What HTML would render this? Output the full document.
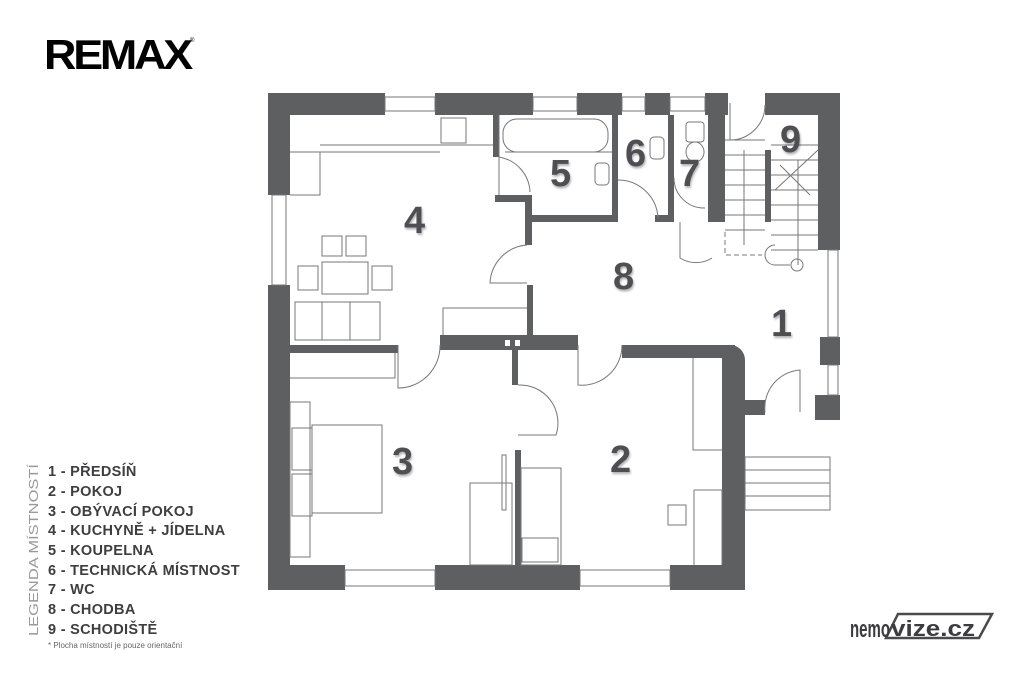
<!DOCTYPE html>
<html><head><meta charset="utf-8"><style>
html,body{margin:0;padding:0;background:#fff;}
svg{display:block;}
.w{fill:#5e5f61;}
.l{fill:none;stroke:#777;stroke-width:1;}
.n{font-family:"Liberation Sans",sans-serif;font-weight:bold;font-size:38px;fill:#505052;}
.lg{font-family:"Liberation Sans",sans-serif;font-weight:bold;font-size:14.5px;fill:#3e3e40;letter-spacing:0.3px;}
</style></head><body>
<svg width="1024" height="682" viewBox="0 0 1024 682" xmlns="http://www.w3.org/2000/svg">
<defs><filter id="sh"><feDropShadow dx="1" dy="2" stdDeviation="1" flood-color="#000" flood-opacity="0.3"/></filter></defs>
<text x="44" y="69" font-family="Liberation Sans,sans-serif" font-weight="900" font-size="42" letter-spacing="-3" fill="#000" textLength="146" lengthAdjust="spacingAndGlyphs">REMAX</text>
<text x="190" y="42" font-family="Liberation Sans,sans-serif" font-size="6" fill="#000">®</text>

<g class="w">
<rect x="268" y="93" width="117" height="22"/>
<rect x="435" y="93" width="98" height="22"/>
<rect x="577" y="93" width="45" height="22"/>
<rect x="645" y="93" width="25" height="22"/>
<rect x="705" y="93" width="23" height="22"/>
<rect x="708" y="115" width="17" height="107"/>
<rect x="765" y="93" width="75" height="22"/>
<rect x="818" y="93" width="22" height="157"/>
<rect x="268" y="93" width="22" height="102"/>
<rect x="268" y="285" width="22" height="305"/>
<rect x="268" y="565" width="77" height="25"/>
<rect x="435" y="565" width="145" height="25"/>
<rect x="670" y="565" width="75" height="25"/>
<path d="M722 345 H730 A15 15 0 0 1 745 360 V590 H722 Z"/>
<path d="M622 345 H735 V358 H622 Z"/>
<rect x="740" y="400" width="25" height="15"/>
<rect x="815" y="395" width="25" height="25"/>
<rect x="820" y="337" width="20" height="28"/>
<rect x="493" y="115" width="6" height="42"/>
<rect x="495" y="195" width="37" height="7"/>
<rect x="525" y="195" width="7" height="50"/>
<rect x="525" y="215" width="93" height="7"/>
<rect x="612" y="115" width="6" height="107"/>
<rect x="668" y="115" width="6" height="107"/>
<rect x="655" y="215" width="19" height="7"/>
<rect x="765" y="150" width="6" height="72"/>
<rect x="527" y="285" width="6" height="55"/>
<rect x="290" y="345" width="108" height="8"/>
<rect x="440" y="335" width="138" height="15"/>
<rect x="505" y="340" width="5" height="6" fill="#fff"/><rect x="515" y="340" width="5" height="6" fill="#fff"/>
<rect x="512" y="350" width="6" height="35"/>
<rect x="515" y="450" width="6" height="115"/>
</g>
<g class="l">
<rect x="385" y="97" width="50" height="14"/><rect x="533" y="97" width="44" height="14"/>
<rect x="622" y="97" width="23" height="14"/><rect x="670" y="97" width="35" height="14"/>
<rect x="272" y="195" width="14" height="90"/><rect x="345" y="570" width="90" height="16"/>
<rect x="580" y="570" width="90" height="16"/><rect x="828" y="250" width="10" height="87"/>
<rect x="828" y="365" width="10" height="30"/>
<path d="M499 157 A37 37 0 0 1 530 192 M499 195 V157"/>
<path d="M618 180 A40 40 0 0 1 658 218"/>
<path d="M674 178 A30 30 0 0 0 705 208"/>
<path d="M730 103 V140 A35 35 0 0 0 765 105"/>
<path d="M680 222 V258 A30 30 0 0 0 712 258 H712"/>
<path d="M527 245 A40 40 0 0 0 490 283 H527"/>
<path d="M398 345 V388 A42 42 0 0 0 440 345"/>
<path d="M578 345 V385 A40 40 0 0 0 622 345"/>
<path d="M518 385 A38 38 0 0 1 556 435 H518"/>
<path d="M765 412 A38 38 0 0 1 800 370 V412"/>
<path d="M290 152 H320 V195 H290 M320 145 H493 M320 152 H440"/>
<rect x="441" y="118" width="25" height="25"/>
<rect x="322" y="236" width="20" height="20"/><rect x="346" y="236" width="20" height="20"/>
<rect x="322" y="262" width="46" height="32"/><rect x="298" y="266" width="20" height="24"/><rect x="372" y="266" width="20" height="24"/>
<rect x="295" y="302" width="85" height="38"/><path d="M322 302 V340 M350 302 V340"/>
<path d="M443 335 V308 H527"/>
<path d="M499 115 V157 M505 152 H612"/>
<rect x="503" y="119" width="105" height="33" rx="14"/>
<rect x="595" y="163" width="14" height="22" rx="4"/><rect x="650" y="137" width="14" height="22" rx="4"/>
<rect x="686" y="122" width="18" height="20" rx="3"/><ellipse cx="695" cy="152" rx="9" ry="10"/>
<path d="M725 140 H765 M725 155 H765 M725 170 H765 M725 185 H765 M725 200 H765 M725 215 H765 M725 230 H765 M771 145 H818 M771 160 H818 M771 175 H818 M771 190 H818 M771 205 H818 M771 220 H818 M771 235 H818 M771 250 H818 M744 150 V245 M798 160 V265 M775 190 L818 150 M780 165 L810 195"/>
<path d="M725 232 V255 H762" stroke-dasharray="5 3"/>
<path d="M775 245 A10 10 0 0 0 775 265 H790"/><circle cx="797" cy="265" r="6"/>
<path d="M290 378 H395 V353"/>
<rect x="290" y="402" width="20" height="155"/><rect x="292" y="428" width="20" height="42"/><rect x="292" y="474" width="20" height="42"/>
<rect x="312" y="425" width="70" height="88"/>
<rect x="470" y="483" width="42" height="82"/><rect x="502" y="455" width="4" height="55"/>
<rect x="521" y="468" width="40" height="97"/><rect x="522" y="538" width="36" height="24"/>
<path d="M693 358 V450 H722 M694 490 H722 V565 M694 490 V565"/>
<rect x="668" y="505" width="18" height="20"/>
<rect x="745" y="457" width="85" height="53"/><path d="M745 470 H830 M745 483 H830 M745 496 H830"/>
</g>
<g class="n" filter="url(#sh)">
<text x="404" y="233">4</text><text x="550" y="186">5</text><text x="625" y="166">6</text>
<text x="679" y="186">7</text><text x="780" y="152">9</text><text x="613" y="289">8</text>
<text x="771" y="336">1</text><text x="392" y="474">3</text><text x="610" y="472">2</text>
</g>
<text transform="translate(38,636) rotate(-90)" font-family="Liberation Sans,sans-serif" font-size="13" fill="#999" textLength="172" lengthAdjust="spacingAndGlyphs">LEGENDA MÍSTNOSTÍ</text>
<g class="lg">
<text x="48" y="476">1 - PŘEDSÍŇ</text>
<text x="48" y="496">2 - POKOJ</text>
<text x="48" y="516">3 - OBÝVACÍ POKOJ</text>
<text x="48" y="535">4 - KUCHYNĚ + JÍDELNA</text>
<text x="48" y="555">5 - KOUPELNA</text>
<text x="48" y="575">6 - TECHNICKÁ MÍSTNOST</text>
<text x="48" y="594">7 - WC</text>
<text x="48" y="614">8 - CHODBA</text>
<text x="48" y="634">9 - SCHODIŠTĚ</text>
</g>
<text x="48" y="648" font-family="Liberation Sans,sans-serif" font-size="8" fill="#666">* Plocha místností je pouze orientační</text>
<path d="M898 614 H992 L979 638 H886 Z" fill="#fff" stroke="#4a4a4c" stroke-width="2.5"/>
<text x="850" y="637" font-family="Liberation Sans,sans-serif" font-weight="bold" font-size="24" fill="#3c3c3e" textLength="40" lengthAdjust="spacingAndGlyphs">nemo</text>
<text x="891" y="636" font-family="Liberation Sans,sans-serif" font-weight="bold" font-size="22" fill="#3c3c3e" textLength="84" lengthAdjust="spacingAndGlyphs">vize.cz</text>
</svg>
</body></html>
